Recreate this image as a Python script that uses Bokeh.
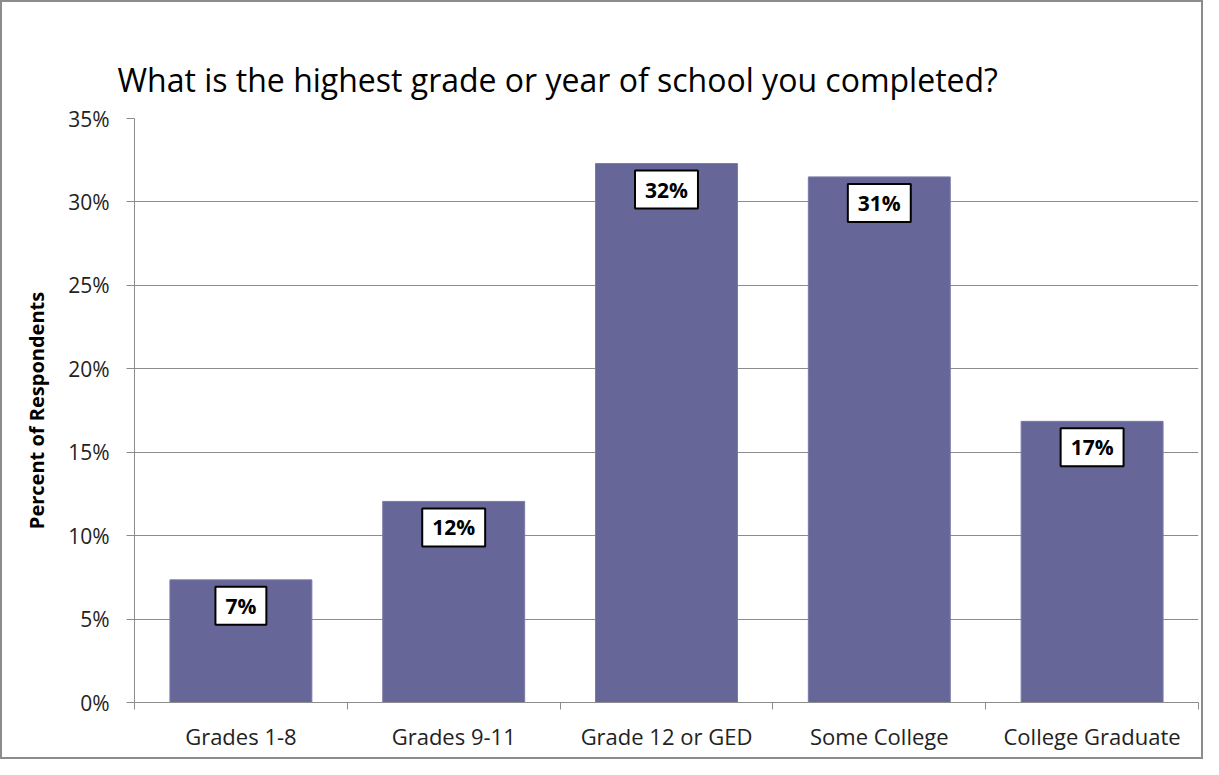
from bokeh.plotting import figure
from bokeh.models import FixedTicker, ColumnDataSource, Range1d, NumeralTickFormatter
from bokeh.core.properties import value
from bokeh.embed import file_html
from bokeh.resources import INLINE

categories = ["Grades 1-8", "Grades 9-11", "Grade 12 or GED", "Some College", "College Graduate"]
values = [7.35, 12.05, 32.3, 31.5, 16.85]
value_labels = ["7%", "12%", "32%", "31%", "17%"]
y_ticks = [0, 5, 10, 15, 20, 25, 30, 35]

FONT = "Open Sans"
xs = [i + 0.5 for i in range(len(categories))]

src = ColumnDataSource(dict(x=xs, top=values, lab=value_labels))

p = figure(width=1203, height=759, output_backend="svg", toolbar_location=None,
           x_range=Range1d(0, len(categories)), y_range=Range1d(0, 35),
           min_border_left=132, min_border_right=7, min_border_bottom=59, min_border_top=116)

p.styles = {"border": "2px solid #8c8c8c", "box-sizing": "border-box"}
p.outline_line_color = None
p.background_fill_color = "white"

p.title.text = "What is the highest grade or year of school you completed?"
p.title.text_font = FONT
p.title.text_font_size = "32px"
p.title.text_font_style = "normal"
p.title.text_color = "#000000"
p.title.align = "left"
p.title.offset = -17
p.title.standoff = 35

p.vbar(x="x", top="top", width=0.667, source=src, fill_color="#666699", line_color="#7a7aaa", line_width=1)

p.text(x="x", y="top", text="lab", source=src, text_align="center", text_baseline="middle",
       y_offset=26, text_font=value(FONT), text_font_size="21px", text_font_style="bold",
       text_color="black", background_fill_color="white", border_line_color="black",
       border_line_width=2, padding=(10, 5))

# y axis
p.yaxis.ticker = FixedTicker(ticks=y_ticks)
p.yaxis.formatter = NumeralTickFormatter(format="0")
p.yaxis.major_label_overrides = {t: f"{t}%" for t in y_ticks}
p.yaxis.major_label_text_font = FONT
p.yaxis.major_label_text_font_size = "21px"
p.yaxis.major_label_text_color = "#222222"
p.yaxis.axis_line_color = "#8c8c8c"
p.yaxis.major_tick_line_color = "#8c8c8c"
p.yaxis.major_tick_out = 8
p.yaxis.major_tick_in = 0
p.yaxis.minor_tick_line_color = None
p.yaxis.major_label_standoff = 17
p.yaxis.axis_label = "Percent of Respondents"
p.yaxis.axis_label_text_font = FONT
p.yaxis.axis_label_text_font_size = "20px"
p.yaxis.axis_label_text_font_style = "bold"
p.yaxis.axis_label_text_color = "black"
p.yaxis.axis_label_standoff = 15

# x axis
p.xaxis.ticker = FixedTicker(ticks=xs, minor_ticks=list(range(len(categories) + 1)))
p.xaxis.major_label_overrides = {x: c for x, c in zip(xs, categories)}
p.xaxis.major_label_text_font = FONT
p.xaxis.major_label_text_font_size = "22px"
p.xaxis.major_label_text_color = "#222222"
p.xaxis.major_tick_out = 0
p.xaxis.major_tick_in = 0
p.xaxis.minor_tick_out = 7
p.xaxis.minor_tick_in = 0
p.xaxis.minor_tick_line_color = "#8c8c8c"
p.xaxis.axis_line_color = "#8c8c8c"
p.xaxis.major_label_standoff = 11

p.xgrid.grid_line_color = None
p.ygrid.grid_line_color = "#8c8c8c"
p.ygrid.grid_line_width = 1

open("out.html", "w").write(file_html(p, INLINE))
